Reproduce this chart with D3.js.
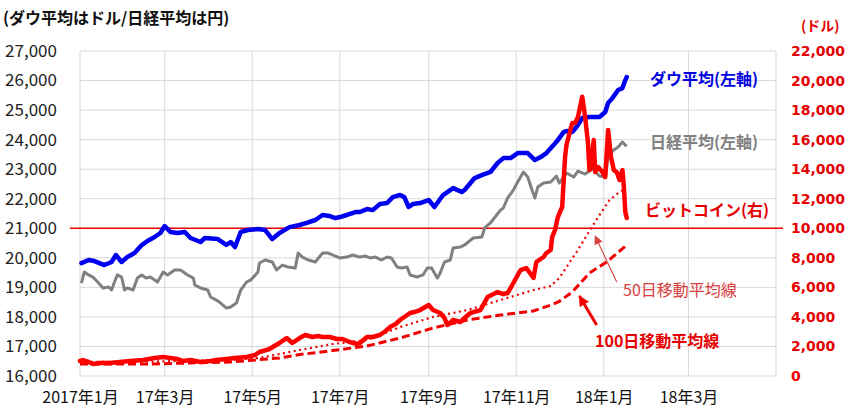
<!DOCTYPE html>
<html><head><meta charset="utf-8">
<script src="https://cdn.jsdelivr.net/npm/d3@7"></script>
<style>body{margin:0;background:#fff;} svg{display:block;}</style>
</head><body>
<svg id="chart" width="854" height="415"></svg>
<script>
// ---------- DATA ----------
const dowData = [["2017-01-02",19820],["2017-01-07",19925],["2017-01-11",19890],["2017-01-18",19755],["2017-01-23",19860],["2017-01-26",20095],["2017-01-30",19860],["2017-02-03",20025],["2017-02-08",20160],["2017-02-13",20430],["2017-02-17",20570],["2017-02-22",20705],["2017-02-26",20840],["2017-03-01",21075],["2017-03-05",20875],["2017-03-10",20840],["2017-03-15",20875],["2017-03-19",20670],["2017-03-26",20535],["2017-03-29",20670],["2017-04-07",20635],["2017-04-13",20435],["2017-04-16",20535],["2017-04-19",20365],["2017-04-23",20875],["2017-04-28",20940],["2017-05-05",20975],["2017-05-10",20940],["2017-05-15",20635],["2017-05-20",20840],["2017-05-27",21040],["2017-06-03",21110],["2017-06-08",21180],["2017-06-14",21280],["2017-06-19",21450],["2017-06-24",21415],["2017-06-28",21345],["2017-07-01",21380],["2017-07-06",21450],["2017-07-12",21550],["2017-07-15",21550],["2017-07-20",21650],["2017-07-24",21615],["2017-07-29",21820],["2017-08-03",21855],["2017-08-07",22055],["2017-08-12",22125],["2017-08-15",22055],["2017-08-18",21720],["2017-08-21",21820],["2017-08-26",21855],["2017-09-01",21955],["2017-09-05",21720],["2017-09-11",22125],["2017-09-18",22360],["2017-09-24",22225],["2017-09-26",22295],["2017-10-03",22700],["2017-10-08",22800],["2017-10-14",22905],["2017-10-19",23210],["2017-10-23",23375],["2017-10-28",23375],["2017-11-02",23545],["2017-11-09",23545],["2017-11-14",23310],["2017-11-18",23410],["2017-11-22",23545],["2017-11-27",23815],["2017-11-30",23985],["2017-12-04",24255],["2017-12-06",24290],["2017-12-10",24255],["2017-12-13",24425],["2017-12-17",24730],["2017-12-22",24765],["2017-12-29",24765],["2018-01-02",24935],["2018-01-04",25240],["2018-01-07",25405],["2018-01-11",25680],["2018-01-14",25745],["2018-01-16",26015],["2018-01-17",26120]];

const nikkeiData = [["2017-01-02",19145],["2017-01-04",19520],["2017-01-07",19420],["2017-01-10",19350],["2017-01-14",19145],["2017-01-17",18980],["2017-01-21",19010],["2017-01-23",18910],["2017-01-25",19180],["2017-01-27",19420],["2017-01-30",19350],["2017-02-01",18910],["2017-02-03",18980],["2017-02-07",18910],["2017-02-10",19315],["2017-02-13",19420],["2017-02-16",19315],["2017-02-19",19350],["2017-02-24",19180],["2017-02-28",19520],["2017-03-03",19420],["2017-03-08",19590],["2017-03-12",19590],["2017-03-17",19420],["2017-03-21",19315],["2017-03-22",19080],["2017-03-26",18980],["2017-03-31",18910],["2017-04-02",18675],["2017-04-06",18570],["2017-04-09",18470],["2017-04-13",18300],["2017-04-16",18335],["2017-04-20",18470],["2017-04-23",18910],["2017-04-27",19180],["2017-04-30",19250],["2017-05-05",19520],["2017-05-06",19825],["2017-05-10",19925],["2017-05-15",19860],["2017-05-18",19590],["2017-05-22",19755],["2017-05-26",19690],["2017-05-31",19655],["2017-06-02",20160],["2017-06-05",20025],["2017-06-09",19925],["2017-06-14",19860],["2017-06-19",20160],["2017-06-23",20160],["2017-06-28",20060],["2017-07-01",19995],["2017-07-06",20025],["2017-07-10",20095],["2017-07-15",20025],["2017-07-19",20060],["2017-07-22",19995],["2017-07-26",20025],["2017-07-30",19925],["2017-08-03",20025],["2017-08-06",19995],["2017-08-10",19690],["2017-08-13",19655],["2017-08-17",19690],["2017-08-19",19420],["2017-08-24",19350],["2017-08-28",19420],["2017-08-31",19655],["2017-09-03",19655],["2017-09-07",19315],["2017-09-09",19485],["2017-09-12",19860],["2017-09-16",19925],["2017-09-18",20330],["2017-09-23",20365],["2017-09-26",20435],["2017-10-02",20670],["2017-10-08",20705],["2017-10-10",21010],["2017-10-14",21180],["2017-10-21",21615],["2017-10-23",21685],["2017-10-26",22025],["2017-10-30",22295],["2017-11-02",22565],["2017-11-06",22905],["2017-11-09",22735],["2017-11-12",22295],["2017-11-14",22025],["2017-11-16",22395],["2017-11-20",22530],["2017-11-25",22565],["2017-11-29",22770],["2017-12-01",22530],["2017-12-06",22870],["2017-12-11",22735],["2017-12-14",22935],["2017-12-19",22835],["2017-12-24",23005],["2017-12-29",22770],["2018-01-02",22735],["2018-01-04",23410],["2018-01-07",23615],["2018-01-11",23750],["2018-01-14",23920],["2018-01-16",23815],["2018-01-17",23785]];

const btcData = [["2017-01-01",1015],["2017-01-03",1080],["2017-01-07",950],["2017-01-10",810],["2017-01-15",880],["2017-01-22",880],["2017-01-29",950],["2017-02-05",1015],["2017-02-14",1080],["2017-02-22",1220],["2017-02-28",1285],["2017-03-05",1220],["2017-03-10",1150],["2017-03-14",1015],["2017-03-19",1080],["2017-03-26",950],["2017-04-02",1015],["2017-04-06",1080],["2017-04-13",1150],["2017-04-19",1220],["2017-04-27",1285],["2017-05-03",1420],["2017-05-06",1625],["2017-05-13",1825],["2017-05-20",2235],["2017-05-25",2570],["2017-05-29",2235],["2017-06-03",2570],["2017-06-07",2775],["2017-06-12",2640],["2017-06-16",2705],["2017-06-19",2640],["2017-06-24",2640],["2017-06-29",2505],["2017-07-03",2505],["2017-07-08",2300],["2017-07-13",2165],["2017-07-15",2235],["2017-07-20",2640],["2017-07-24",2640],["2017-07-29",2775],["2017-08-02",3045],["2017-08-05",3315],["2017-08-09",3520],["2017-08-12",3790],["2017-08-15",3995],["2017-08-19",4265],["2017-08-22",4330],["2017-08-26",4465],["2017-09-01",4805],["2017-09-04",4465],["2017-09-09",4265],["2017-09-12",3925],["2017-09-14",3450],["2017-09-18",3790],["2017-09-23",3655],["2017-09-26",3925],["2017-09-30",4265],["2017-10-07",4465],["2017-10-12",5345],["2017-10-19",5685],["2017-10-23",5550],["2017-10-26",5615],["2017-10-30",6295],["2017-11-04",7175],["2017-11-08",7310],["2017-11-13",6635],["2017-11-15",7715],["2017-11-20",8055],["2017-11-22",8325],["2017-11-25",8530],["2017-11-26",9410],["2017-11-28",9880],["2017-11-30",10760],["2017-12-03",11440],["2017-12-05",14820],["2017-12-06",15635],["2017-12-10",17125],["2017-12-12",17125],["2017-12-14",17530],["2017-12-17",18900],["2017-12-19",17530],["2017-12-21",15770],["2017-12-22",13940],["2017-12-23",14080],["2017-12-25",15970],["2017-12-26",13805],["2017-12-28",14145],["2017-12-31",13805],["2018-01-02",13470],["2018-01-04",16650],["2018-01-06",14820],["2018-01-08",13940],["2018-01-10",13805],["2018-01-12",13265],["2018-01-14",13940],["2018-01-15",12790],["2018-01-16",11100],["2018-01-17",10690]];

const ma50Data = [["2017-01-01",950],["2017-02-05",950],["2017-03-12",1015],["2017-04-16",1085],["2017-05-06",1220],["2017-06-03",1760],["2017-06-26",2165],["2017-07-20",2435],["2017-08-12",3315],["2017-09-04",3995],["2017-09-28",4465],["2017-10-21",5145],["2017-11-13",5820],["2017-11-25",6090],["2017-12-01",6635],["2017-12-13",8390],["2017-12-22",9815],["2017-12-29",10895],["2018-01-05",11910],["2018-01-12",12455],["2018-01-16",12655]];

const ma100Data = [["2017-01-01",810],["2017-02-19",810],["2017-04-16",950],["2017-05-20",1220],["2017-06-03",1450],["2017-06-26",1720],["2017-07-20",2030],["2017-08-12",2570],["2017-09-04",3250],["2017-09-28",3790],["2017-10-21",4130],["2017-11-13",4400],["2017-11-25",4800],["2017-12-01",5050],["2017-12-10",5685],["2017-12-22",6970],["2018-01-03",7715],["2018-01-17",8865]];

const leftTicks = [16000,17000,18000,19000,20000,21000,22000,23000,24000,25000,26000,27000];
const rightTicks = [0,2000,4000,6000,8000,10000,12000,14000,16000,18000,20000,22000];
const xTickDates = ["2017-01-01","2017-03-01","2017-05-01","2017-07-01","2017-09-01","2017-11-01","2018-01-01","2018-03-01"];
const xTickLabels = ["2017年1月","17年3月","17年5月","17年7月","17年9月","17年11月","18年1月","18年3月"];
const xDomain = ["2017-01-01","2018-05-01"];
const refLineValue = 21000; // left axis (= 10,000 right axis)

// annotation arrows: [tail date, tail value(right axis), tip date, tip value]
const arrow50 = ["2018-01-10",6360,"2017-12-26",9470];
const arrow100 = ["2017-12-27",3450,"2017-12-15",5410];

// ---------- CHART ----------
const parse = d3.timeParse("%Y-%m-%d");
const svg = d3.select("#chart");
const L = 80, R = 776, T = 51, B = 376;
const x = d3.scaleTime().domain(xDomain.map(parse)).range([L, R]);
const yL = d3.scaleLinear().domain([16000, 27000]).range([B, T]);
const yR = d3.scaleLinear().domain([0, 22000]).range([B, T]);
const CJK = "'Noto Sans CJK JP','Noto Sans',sans-serif";

// gridlines
const grid = svg.append("g");
grid.selectAll("line.h").data(leftTicks).join("line")
  .attr("x1", L).attr("x2", R)
  .attr("y1", d => yL(d)).attr("y2", d => yL(d))
  .attr("stroke", "#d9d9d9").attr("stroke-width", 1);
const vDates = xTickDates.concat([xDomain[1]]);
grid.selectAll("line.v").data(vDates).join("line")
  .attr("x1", d => x(parse(d))).attr("x2", d => x(parse(d)))
  .attr("y1", T).attr("y2", B)
  .attr("stroke", "#d9d9d9").attr("stroke-width", 1);

// left axis labels
const gl = svg.append("g").attr("transform", "translate(57,0)")
  .call(d3.axisLeft(yL).tickValues(leftTicks).tickFormat(d3.format(",")).tickSize(0).tickPadding(0));
gl.select(".domain").remove();
gl.selectAll("text").attr("font-family", CJK).attr("font-size", 17).attr("fill", "#222");

// right axis labels
const gr = svg.append("g").attr("transform", "translate(791,0)")
  .call(d3.axisRight(yR).tickValues(rightTicks).tickFormat(d3.format(",")).tickSize(0).tickPadding(0));
gr.select(".domain").remove();
gr.selectAll("text").attr("font-family", "'DejaVu Sans',sans-serif").attr("font-size", 14)
  .attr("font-weight", "bold").attr("fill", "#e60000");

// x axis labels
const gx = svg.append("g").attr("transform", "translate(0,392)")
  .call(d3.axisBottom(x).tickValues(xTickDates.map(parse)).tickFormat((d, i) => xTickLabels[i]).tickSize(0).tickPadding(0));
gx.select(".domain").remove();
gx.selectAll("text").attr("font-family", CJK).attr("font-size", 16).attr("fill", "#111");

// reference line
svg.append("line").attr("x1", 70).attr("x2", 783)
  .attr("y1", yL(refLineValue)).attr("y2", yL(refLineValue))
  .attr("stroke", "#f00000").attr("stroke-width", 1.6);

const pts = arr => arr.map(d => [parse(d[0]), d[1]]);
const lineL = d3.line().x(d => x(d[0])).y(d => yL(d[1]));
const lineR = d3.line().x(d => x(d[0])).y(d => yR(d[1]));

svg.append("path").attr("d", lineR(pts(ma100Data))).attr("fill", "none")
  .attr("stroke", "#f00000").attr("stroke-width", 3).attr("stroke-dasharray", "8,4");
svg.append("path").attr("d", lineR(pts(ma50Data))).attr("fill", "none")
  .attr("stroke", "#f00000").attr("stroke-width", 2.2).attr("stroke-dasharray", "2,3.5");
svg.append("path").attr("d", lineL(pts(nikkeiData))).attr("fill", "none")
  .attr("stroke", "#808080").attr("stroke-width", 3).attr("stroke-linejoin", "round");
svg.append("path").attr("d", lineL(pts(dowData))).attr("fill", "none")
  .attr("stroke", "#0000f0").attr("stroke-width", 4.5).attr("stroke-linejoin", "round").attr("stroke-linecap", "round");
svg.append("path").attr("d", lineR(pts(btcData))).attr("fill", "none")
  .attr("stroke", "#ff0000").attr("stroke-width", 4.5).attr("stroke-linejoin", "round").attr("stroke-linecap", "round");

// arrows
const defs = svg.append("defs");
function marker(id, color) {
  defs.append("marker").attr("id", id).attr("viewBox", "0 0 10 10")
    .attr("refX", 9).attr("refY", 5).attr("markerWidth", 4).attr("markerHeight", 4)
    .attr("markerUnits", "strokeWidth").attr("orient", "auto")
    .append("path").attr("d", "M0,0 L10,5 L0,10 z").attr("fill", color);
}
marker("ahThin", "#d94040");
marker("ahThick", "#f00000");
defs.select("#ahThin").attr("markerWidth", 9).attr("markerHeight", 8);
defs.select("#ahThick").attr("markerWidth", 3.6).attr("markerHeight", 3.6);
svg.append("line")
  .attr("x1", x(parse(arrow50[0]))).attr("y1", yR(arrow50[1]))
  .attr("x2", x(parse(arrow50[2]))).attr("y2", yR(arrow50[3]))
  .attr("stroke", "#d94040").attr("stroke-width", 1.1).attr("marker-end", "url(#ahThin)");
svg.append("line")
  .attr("x1", x(parse(arrow100[0]))).attr("y1", yR(arrow100[1]))
  .attr("x2", x(parse(arrow100[2]))).attr("y2", yR(arrow100[3]))
  .attr("stroke", "#f00000").attr("stroke-width", 3).attr("marker-end", "url(#ahThick)");

// texts
function txt(s, xx, yy, size, weight, color, fam) {
  svg.append("text").attr("x", xx).attr("y", yy).attr("font-family", fam || CJK)
    .attr("font-size", size).attr("font-weight", weight).attr("fill", color).text(s);
}
txt("(ダウ平均はドル/日経平均は円)", 3, 24, 16, "bold", "#111");
txt("(ドル)", 801, 31, 14, "bold", "#e60000");
txt("ダウ平均(左軸)", 650, 85, 16, "bold", "#0000dd");
txt("日経平均(左軸)", 650, 148, 16, "bold", "#808080");
txt("ビットコイン(右)", 645, 216, 16, "bold", "#e60000");
txt("50日移動平均線", 623, 296, 16, "normal", "#d94040");
txt("100日移動平均線", 595, 347, 16, "bold", "#e60000");
</script>
</body></html>
